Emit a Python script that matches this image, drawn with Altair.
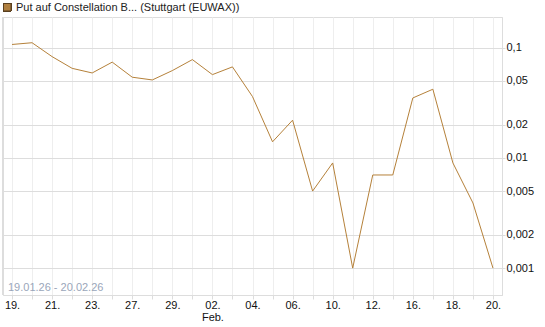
import altair as alt
import pandas as pd
import json

days = ["19.01.", "20.01.", "21.01.", "22.01.", "23.01.", "26.01.", "27.01.", "28.01.", "29.01.", "30.01.",
        "02.02.", "03.02.", "04.02.", "05.02.", "06.02.", "09.02.", "10.02.", "11.02.", "12.02.", "13.02.",
        "16.02.", "17.02.", "18.02.", "19.02.", "20.02."]
values = [0.107, 0.111, 0.083, 0.065, 0.059, 0.074, 0.054, 0.051, 0.062, 0.078,
          0.057, 0.067, 0.036, 0.014, 0.022, 0.005, 0.009, 0.001, 0.007, 0.007,
          0.035, 0.042, 0.009, 0.0039, 0.001]
tick_labels = ["19.", "", "21.", "", "23.", "", "27.", "", "29.", "",
               ["02.", "Feb."], "", "04.", "", "06.", "", "10.", "", "12.", "",
               "16.", "", "18.", "", "20."]
y_ticks = [0.001, 0.002, 0.005, 0.01, 0.02, 0.05, 0.1]
title_text = "Put auf Constellation B... (Stuttgart (EUWAX))"
range_text = "19.01.26 - 20.02.26"

df = pd.DataFrame({"i": list(range(len(days))), "day": days, "v": values})

FONT = "Liberation Sans"
W, H = 499, 278
LINE = "#b5813a"

label_expr = "%s[datum.value]" % json.dumps(tick_labels)

x = alt.X("i:Q", scale=alt.Scale(domain=[-0.45, 24.45], nice=False, zero=False),
          axis=alt.Axis(values=list(range(25)), labelExpr=label_expr, title=None,
                        grid=True, gridColor="#eeeeee", gridWidth=1,
                        domainColor="#dddddd", tickColor="#dddddd", tickSize=4,
                        labelFont=FONT, labelFontSize=11, labelColor="#111111",
                        labelPadding=0, labelFlush=False, labelOverlap=False,
                        labelLineHeight=12))
y = alt.Y("v:Q", scale=alt.Scale(type="log", domain=[0.00057, 0.19], nice=False),
          axis=alt.Axis(orient="right", values=y_ticks, title=None,
                        labelExpr="replace(format(datum.value, '~g'), '.', ',')",
                        grid=True, gridColor="#dddddd", domainColor="#dddddd",
                        tickColor="#dddddd", tickSize=3, labelPadding=1,
                        labelFont=FONT, labelFontSize=11, labelColor="#111111"))

line = alt.Chart(df).mark_line(color=LINE, strokeWidth=1, clip=False).encode(x=x, y=y)

left_border = alt.Chart(df).mark_rule(color="#dddddd").encode(
    x=alt.value(0), y=alt.value(0), y2=alt.value(H))

legend_box = alt.Chart(df).mark_rect(fill="#b08040", stroke="#5a4020", strokeWidth=1).encode(
    x=alt.value(0.5), x2=alt.value(8), y=alt.value(-13.5), y2=alt.value(-6))

title = alt.Chart(pd.DataFrame({"t": [title_text]})).mark_text(
    align="left", baseline="middle", font=FONT, fontSize=11, color="#222222").encode(
    x=alt.value(13), y=alt.value(-9), text="t:N")

rng = alt.Chart(pd.DataFrame({"t": [range_text]})).mark_text(
    align="left", baseline="alphabetic", font=FONT, fontSize=11, color="#9aa6ba").encode(
    x=alt.value(5), y=alt.value(H - 4), text="t:N")

chart = alt.layer(left_border, line, legend_box, title, rng).properties(
    width=W, height=H,
    autosize=alt.AutoSizeParams(type="none"),
    padding={"left": 3, "top": 17, "right": 43, "bottom": 32},
).configure_view(stroke=None).configure(background="white")

chart.save("out.html", embed_options={"renderer": "svg", "actions": False})
